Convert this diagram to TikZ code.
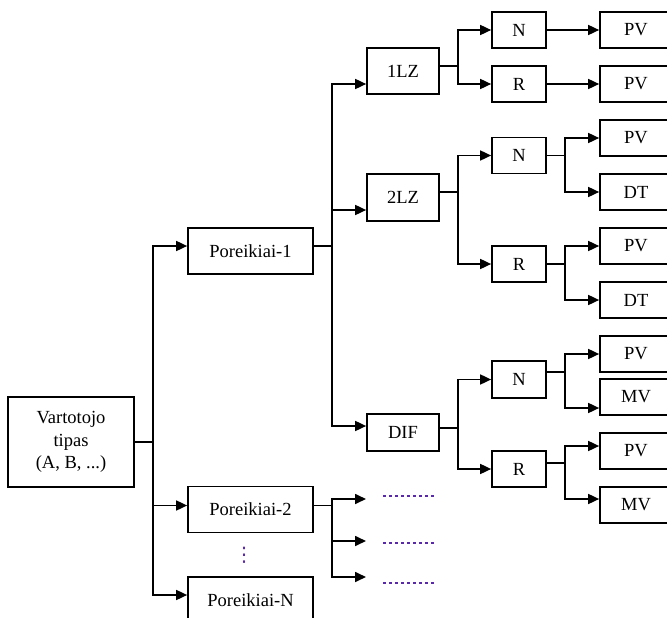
\documentclass[tikz,border=0pt]{standalone}
\usepackage{fontspec}
\setmainfont{Liberation Serif}
\newfontfamily\symfont{DejaVu Sans}
\usetikzlibrary{arrows.meta}
\definecolor{dotc}{RGB}{90,40,170}
\begin{document}
\begin{tikzpicture}[x=1pt,y=-1pt,
  box/.style={draw, line width=1.7pt, inner sep=0pt, align=center,
    font=\fontsize{18.5}{22.5}\selectfont},
  lv1/.style={box, minimum width=125pt, minimum height=46pt},
  lv2/.style={box, minimum width=72pt},
  lv3/.style={box, minimum width=54pt, minimum height=36pt},
  lv4/.style={box, minimum width=72pt, minimum height=36pt},
  ln/.style={line width=1.7pt},
  arr/.style={line width=1.7pt, -{Triangle[length=11pt,width=10pt]}},
  dotl/.style={dotc, line width=1.3pt, dash pattern=on 3pt off 3pt}]
\useasboundingbox (0,0) rectangle (667,618);
\clip (0,0) rectangle (667,618);
% level 0
\node[box, minimum width=126pt, minimum height=90pt] (v) at (71,442) {Vartotojo\\tipas\\(A, B, ...)};
% level 1
\node[lv1] (p1) at (250.5,251) {Poreikiai-1};
\node[lv1] (p2) at (250.5,509.5) {Poreikiai-2};
\node[lv1] (pN) at (250.5,600) {Poreikiai-N};
\node[text=dotc, inner sep=0pt, font=\symfont\fontsize{20}{20}\selectfont] (vd) at (244,555) {⋮};
% level 2
\node[lv2, minimum height=46pt] (l1) at (403,71) {1LZ};
\node[lv2, minimum height=47pt] (l2) at (403,197.5) {2LZ};
\node[lv2, minimum height=37pt] (dif) at (403,432.5) {DIF};
% level 3
\node[lv3] (n1) at (519,30) {N};
\node[lv3] (r1) at (519,84) {R};
\node[lv3] (n2) at (519,155.5) {N};
\node[lv3] (r2) at (519,264) {R};
\node[lv3, minimum height=37pt] (n3) at (519,379.5) {N};
\node[lv3] (r3) at (519,469) {R};
% level 4
\node[lv4] (pv1) at (636,30) {PV};
\node[lv4] (pv2) at (636,84) {PV};
\node[lv4] (pv3) at (636,138) {PV};
\node[lv4] (dt1) at (636,192) {DT};
\node[lv4] (pv4) at (636,246) {PV};
\node[lv4] (dt2) at (636,300) {DT};
\node[lv4] (pv5) at (636,354) {PV};
\node[lv4] (mv1) at (636,397) {MV};
\node[lv4] (pv6) at (636,451) {PV};
\node[lv4] (mv2) at (636,505) {MV};
% connectors: level 0 -> 1
\draw[ln] (v.east) -- ++(18,0) coordinate (t0);
\draw[arr] (t0) |- ([yshift=5pt]p1.west);
\draw[arr] (t0) |- ([yshift=4pt]p2.west);
\draw[arr] (t0) |- ([yshift=5pt]pN.west);
% p1 -> level 2
\draw[ln] ([yshift=5pt]p1.east) -- ++(18,0) coordinate (t1);
\draw[arr] (t1) |- ([yshift=-13pt]l1.west);
\draw[arr] (t1) |- ([yshift=-12.5pt]l2.west);
\draw[arr] (t1) |- ([yshift=6.5pt]dif.west);
% p2 -> open ends
\coordinate (e1) at (366,499);
\coordinate (e2) at (366,541);
\coordinate (e3) at (366,577);
\draw[ln] ([yshift=4pt]p2.east) -- ++(18,0) coordinate (t1b);
\draw[arr] (t1b) |- (e1);
\draw[arr] (t1b) |- (e2);
\draw[arr] (t1b) |- (e3);
\coordinate (d1a) at (383,496); \coordinate (d1b) at (434,496);
\coordinate (d2a) at (383,543); \coordinate (d2b) at (434,543);
\coordinate (d3a) at (383,583); \coordinate (d3b) at (434,583);
\draw[dotl] (d1a) -- (d1b);
\draw[dotl] (d2a) -- (d2b);
\draw[dotl] (d3a) -- (d3b);
% 1LZ
\draw[ln] ([yshift=5pt]l1.east) -- ++(18,0) coordinate (t2a);
\draw[arr] (t2a) |- (n1.west);
\draw[arr] (t2a) |- (r1.west);
\draw[arr] (n1.east) -- (pv1.west);
\draw[arr] (r1.east) -- (pv2.west);
% 2LZ
\draw[ln] ([yshift=5.5pt]l2.east) -- ++(18,0) coordinate (t2b);
\draw[arr] (t2b) |- (n2.west);
\draw[arr] (t2b) |- (r2.west);
\draw[ln] (n2.east) -- ++(18,0) coordinate (t3a);
\draw[arr] (t3a) |- (pv3.west);
\draw[arr] (t3a) |- (dt1.west);
\draw[ln] (r2.east) -- ++(18,0) coordinate (t3b);
\draw[arr] (t3b) |- (pv4.west);
\draw[arr] (t3b) |- (dt2.west);
% DIF
\draw[ln] ([yshift=4.5pt]dif.east) -- ++(18,0) coordinate (t2c);
\draw[arr] (t2c) |- (n3.west);
\draw[arr] (t2c) |- (r3.west);
\draw[ln] ([yshift=7.5pt]n3.east) -- ++(18,0) coordinate (t3c);
\draw[arr] (t3c) |- (pv5.west);
\draw[arr] (t3c) |- ([yshift=-11pt]mv1.west);
\draw[ln] ([yshift=6pt]r3.east) -- ++(18,0) coordinate (t3d);
\draw[arr] (t3d) |- ([yshift=5pt]pv6.west);
\draw[arr] (t3d) |- ([yshift=6pt]mv2.west);
\end{tikzpicture}
\end{document}
